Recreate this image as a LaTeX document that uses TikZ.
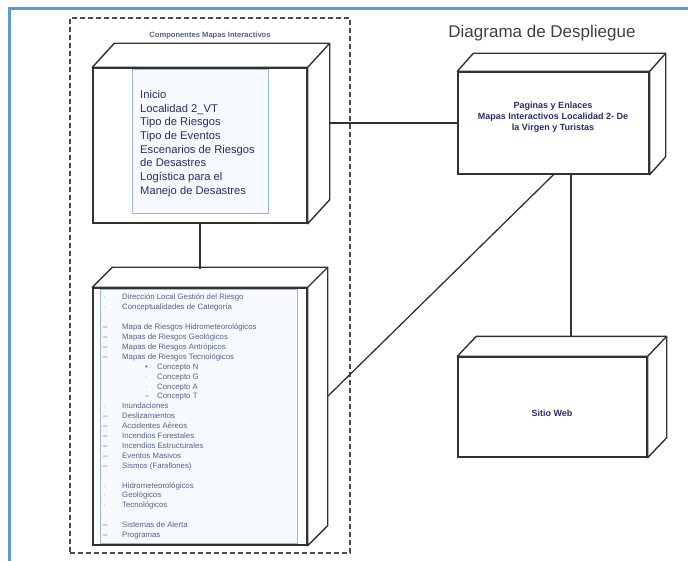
\documentclass[tikz,border=0pt]{standalone}
\usepackage{fontspec}
\setmainfont{Liberation Sans}
\usetikzlibrary{calc}

\definecolor{marco}{RGB}{91,155,213}
\definecolor{linea}{RGB}{50,50,50}
\definecolor{texto}{RGB}{40,45,110}
\definecolor{textoclaro}{RGB}{85,95,145}
\definecolor{bordeazul}{RGB}{150,185,222}
\definecolor{fondoazul}{RGB}{246,250,254}

\tikzset{
  caja/.style={draw=linea, line width=1.4pt, fill=white, inner sep=0pt},
  caja3d/.style={draw=linea, line width=1.4pt, fill=white, line join=round},
  interior/.style={draw=bordeazul, line width=0.8pt, fill=fondoazul, inner sep=0pt},
  conector/.style={draw=linea, line width=1.3pt},
  paquete/.style={draw=black!70, line width=1.4pt, dash pattern=on 5pt off 3pt, inner sep=0pt},
}

% caras de profundidad de una caja
\newcommand{\fondo}[3]{%
  \filldraw[caja3d] (#1.north west) -- ++(#2,#3) -- ($(#1.north east)+(#2,#3)$)
    -- ($(#1.south east)+(#2,#3)$) -- (#1.south east) -- (#1.north east) -- cycle;
  \draw[caja3d] (#1.north east) -- ++(#2,#3);
}

\begin{document}
\begin{tikzpicture}[x=1pt,y=-1pt]
  \useasboundingbox (0,0) rectangle (688,561);

  % MARCO
  \draw[marco, line width=3pt] (9,561) -- (9,9) -- (688,9);

  % PAQUETE
  \node[paquete, minimum width=280pt, minimum height=535pt] (paq) at (210,285.5) {};
  \node[font=\bfseries\fontsize{7.6}{9}\selectfont, text=textoclaro] (paqTitulo) at (210,36)
    {Componentes Mapas Interactivos};

  % NODO SUPERIOR
  \node[caja, minimum width=214pt, minimum height=155pt] (comp) at (200,145.5) {};
  \fondo{comp}{22}{-24}
  \node[interior, minimum width=136pt, minimum height=144pt] (compInt) at (200,141) {};
  \node[anchor=north west, inner sep=0pt, align=left, text=texto,
        font=\fontsize{11.2}{13.7}\selectfont] (compTexto) at (140,90)
    {Inicio\\Localidad 2\_VT\\Tipo de Riesgos\\Tipo de Eventos\\Escenarios de Riesgos\\
     de Desastres\\Logística para el\\Manejo de Desastres};

  % NODO INFERIOR
  \node[caja, minimum width=214pt, minimum height=257pt] (inf) at (200,416.5) {};
  \fondo{inf}{20}{-20}
  \node[interior, minimum width=197pt, minimum height=254pt] (infInt) at (198.5,416) {};
  \node[anchor=north west, inner sep=0pt, align=left, text=textoclaro,
        font=\fontsize{7.8}{9.9}\selectfont] (infTexto) at (103,294)
    {\makebox[19pt][l]{$\cdot$}Dirección Local Gestión del Riesgo\\
     \makebox[19pt][l]{$\cdot$}Conceptualidades de Categoría\\
     \mbox{}\\
     \makebox[19pt][l]{--}Mapa de Riesgos Hidrometeorológicos\\
     \makebox[19pt][l]{--}Mapas de Riesgos Geológicos\\
     \makebox[19pt][l]{--}Mapas de Riesgos Antrópicos\\
     \makebox[19pt][l]{--}Mapas de Riesgos Tecnológicos\\
     \hspace*{42pt}\makebox[12pt][l]{\textbullet}Concepto N\\
     \hspace*{42pt}\makebox[12pt][l]{$\cdot$}Concepto G\\
     \hspace*{42pt}\makebox[12pt][l]{$\cdot$}Concepto A\\
     \hspace*{42pt}\makebox[12pt][l]{--}Concepto T\\
     \makebox[19pt][l]{$\cdot$}Inundaciones\\
     \makebox[19pt][l]{--}Deslizamientos\\
     \makebox[19pt][l]{--}Accidentes Aéreos\\
     \makebox[19pt][l]{--}Incendios Forestales\\
     \makebox[19pt][l]{--}Incendios Estructurales\\
     \makebox[19pt][l]{--}Eventos Masivos\\
     \makebox[19pt][l]{--}Sismos (Farallones)\\
     \mbox{}\\
     \makebox[19pt][l]{$\cdot$}Hidrometeorológicos\\
     \makebox[19pt][l]{$\cdot$}Geológicos\\
     \makebox[19pt][l]{$\cdot$}Tecnológicos\\
     \mbox{}\\
     \makebox[19pt][l]{--}Sistemas de Alerta\\
     \makebox[19pt][l]{--}Programas};

  % PAGINAS Y ENLACES
  \node[caja, minimum width=191pt, minimum height=102pt] (pag) at (553.5,123) {};
  \fondo{pag}{16}{-18}
  \node[align=center, text=texto, font=\bfseries\fontsize{9}{11}\selectfont] (pagTexto) at (553,117)
    {Paginas y Enlaces\\Mapas Interactivos Localidad 2- De\\la Virgen y Turistas};

  % SITIO WEB
  \node[caja, minimum width=189pt, minimum height=100pt] (sitio) at (552.5,407) {};
  \fondo{sitio}{19}{-20}
  \node[text=texto, font=\bfseries\fontsize{9}{11}\selectfont] (sitioTexto) at (552,413) {Sitio Web};

  % TITULO
  \node[text=black!75, font=\fontsize{17}{20}\selectfont] (titulo) at (542,33) {Diagrama de Despliegue};

  % CONECTORES
  \coordinate (infArriba) at (200,269);
  \coordinate (compDer) at (329,123);
  \coordinate (infDer) at (327,397);
  \coordinate (pagAbajo) at (571,174);
  \coordinate (sitioArriba) at (571,337);
  \draw[conector] (comp.south) -- (infArriba);
  \draw[conector] (compDer) -- (pag.west);
  \draw[conector] (infDer) -- (pag.south);
  \draw[conector] (pagAbajo) -- (sitioArriba);
\end{tikzpicture}
\end{document}
